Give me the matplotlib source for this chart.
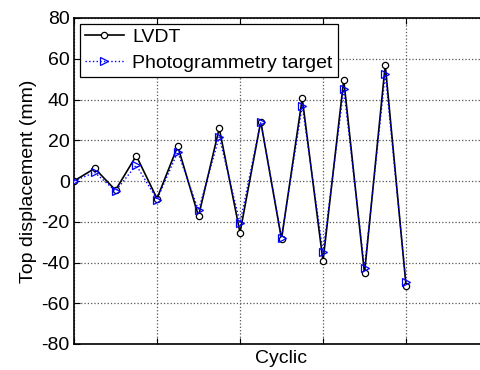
import matplotlib
matplotlib.use("Agg")
import matplotlib.pyplot as plt
import numpy as np

plt.rcParams['font.family'] = ['Liberation Sans', 'DejaVu Sans']

step = list(range(17))
lvdt = [0, 6.2, -4.5, 12.4, -8.6, 17.1, -17.3, 25.9, -25.4, 29.2, -28.5,
        40.5, -39.3, 49.7, -45.3, 57.0, -51.3]
photo = [0, 4.2, -4.9, 7.8, -9.1, 14.3, -14.4, 21.7, -20.6, 29.1, -27.8,
         37.0, -34.9, 45.1, -42.8, 52.6, -49.7]
yticks = [-80, -60, -40, -20, 0, 20, 40, 60, 80]
xticks = [0, 4, 8, 12, 16, 20]

fig = plt.figure(figsize=(4.8, 3.7), dpi=100)
# axes extends past right edge of the figure (as in reference)
ax = fig.add_axes([74/480, 1 - 344/370, 415/480, 326/370])

ax.plot(step, lvdt, color='black', lw=1.2, marker='o', ms=4.5,
        mfc='white', mec='black', mew=0.9, label='LVDT', zorder=3)
ax.plot(step, photo, color='blue', lw=1.0, ls=':', marker='>', ms=6,
        mfc='none', mec='blue', mew=0.9, label='Photogrammetry target', zorder=4)

ax.set_xlim(0, 20)
ax.set_ylim(-80, 80)
ax.set_xticks(xticks)
ax.set_xticklabels([])
ax.set_yticks(yticks)
ax.set_yticklabels([str(v) for v in yticks], fontsize=14)
ax.tick_params(direction='in', top=True, right=True, length=4, width=0.8, pad=3)
ax.grid(True, ls=':', color='#555555', lw=0.9)
for s in ax.spines.values():
    s.set_linewidth(1.2)

ax.set_xlabel('Cyclic', fontsize=14, labelpad=1)
ax.set_ylabel('Top displacement (mm)', fontsize=14, labelpad=3)

leg = ax.legend(loc='upper left', fontsize=14, fancybox=False, framealpha=1,
                edgecolor='black', borderaxespad=0.3, handlelength=2.0,
                borderpad=0.25, labelspacing=0.4, handletextpad=0.45)
leg.get_frame().set_linewidth(0.9)

fig.savefig('out.png', dpi=100)
